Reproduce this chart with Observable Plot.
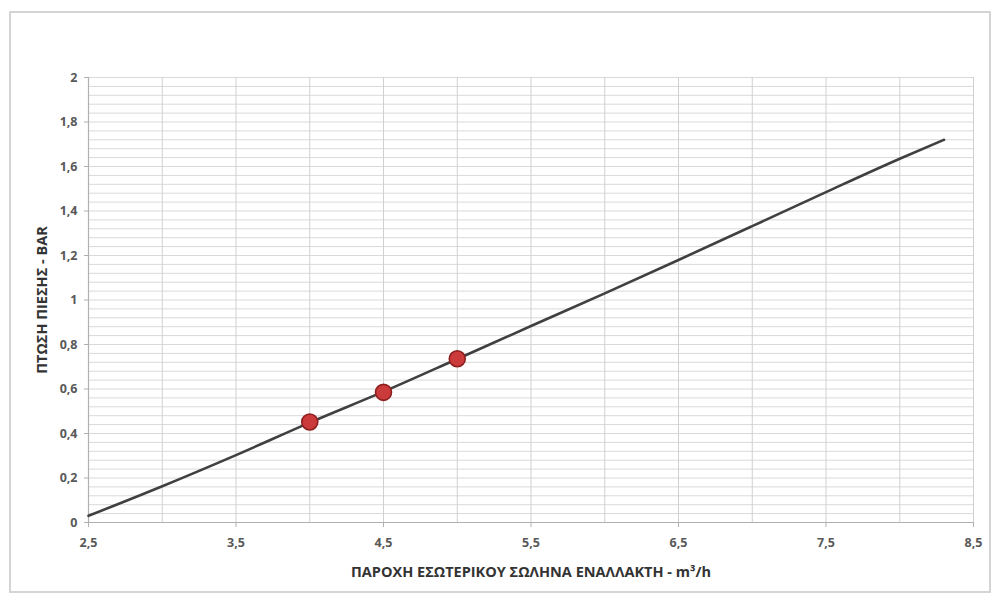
<!DOCTYPE html>
<html>
<head>
<meta charset="utf-8">
<script src="https://cdn.jsdelivr.net/npm/d3@7"></script>
<script src="https://cdn.jsdelivr.net/npm/@observablehq/plot@0.6"></script>
<style>
  html, body { margin: 0; padding: 0; background: #fff; }
  #wrap { position: relative; width: 992px; height: 593px; overflow: hidden; }
  #border { position: absolute; left: 9px; top: 11px; width: 978px; height: 578px; border: 2px solid #d4d4d4; pointer-events: none; }
</style>
</head>
<body>
<div id="wrap"><div id="border"></div></div>
<script>
// Curve: flow (m3/h) vs pressure drop (bar)
const curveFlow  = [2.5, 3.0, 3.5, 4.0, 4.5, 5.0, 5.5, 6.0, 6.5, 7.0, 7.5, 8.0, 8.3];
const curveDrop  = [0.03, 0.163, 0.303, 0.449, 0.588, 0.735, 0.883, 1.03, 1.18, 1.332, 1.485, 1.635, 1.72];
// Highlighted points
const pointFlow  = [4.0, 4.5, 5.0];
const pointDrop  = [0.452, 0.585, 0.736];
// Axes
const xTickValues = [2.5, 3.5, 4.5, 5.5, 6.5, 7.5, 8.5];
const xGridValues = [2.5, 3, 3.5, 4, 4.5, 5, 5.5, 6, 6.5, 7, 7.5, 8, 8.5];
const yTickValues = [0, 0.2, 0.4, 0.6, 0.8, 1, 1.2, 1.4, 1.6, 1.8, 2];
const yGridStep = 0.04;
const xTitle = "ΠΑΡΟΧΗ ΕΣΩΤΕΡΙΚΟΥ ΣΩΛΗΝΑ ΕΝΑΛΛΑΚΤΗ - m³/h";
const yTitle = "ΠΤΩΣΗ ΠΙΕΣΗΣ - BAR";

const curve = curveFlow.map((x, i) => ({x, y: curveDrop[i]}));
const points = pointFlow.map((x, i) => ({x, y: pointDrop[i]}));
const yGridValues = d3.range(0, 2 + 1e-9, yGridStep).map(v => +v.toFixed(2));
const fmt = d => String(d).replace(".", ",");

const chart = Plot.plot({
  width: 992,
  height: 593,
  marginLeft: 88,
  marginRight: 19,
  marginTop: 77,
  marginBottom: 71,
  style: { fontFamily: "'Open Sans', 'DejaVu Sans', sans-serif", background: "transparent" },
  x: { domain: [2.5, 8.5] },
  y: { domain: [0, 2] },
  marks: [
    Plot.ruleY(yGridValues, { stroke: "#d9d9d9", strokeWidth: 1 }),
    Plot.ruleX(xGridValues, { stroke: "#d0d0d0", strokeWidth: 1 }),
    Plot.ruleY([0], { stroke: "#b0b0b0", strokeWidth: 1.2 }),
    Plot.ruleX([2.5], { stroke: "#b0b0b0", strokeWidth: 1.2 }),
    Plot.axisX({ ticks: xTickValues, tickFormat: fmt, tickSize: 5, tickPadding: 11, stroke: "#b0b0b0",
      fill: "#595959", fontSize: 12.5, fontWeight: "bold", label: null }),
    Plot.axisY({ ticks: yTickValues, tickFormat: fmt, tickSize: 4, tickPadding: 7, stroke: "#b0b0b0",
      fill: "#595959", fontSize: 12.5, fontWeight: "bold", label: null }),
    Plot.line(curve, { x: "x", y: "y", stroke: "#404040", strokeWidth: 2.6, curve: "monotone-x" }),
    Plot.dot(points, { x: "x", y: "y", r: 8, fill: "#cc3b3b", stroke: "#8e1f1f", strokeWidth: 1.6 }),
    Plot.text([xTitle], { frameAnchor: "bottom", textAnchor: "middle", dy: 54, fontSize: 14.5, fontWeight: "bold", fill: "#333" }),
    Plot.text([yTitle], { frameAnchor: "left", textAnchor: "middle", rotate: -90, dx: -46, fontSize: 14.5, fontWeight: "bold", fill: "#333" })
  ]
});
document.getElementById("wrap").prepend(chart);
</script>
</body>
</html>
